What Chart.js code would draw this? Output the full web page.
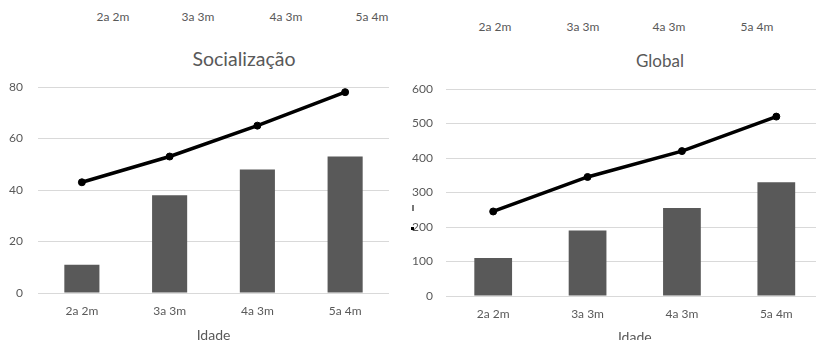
<!DOCTYPE html>
<html lang="pt">
<head>
<meta charset="utf-8">
<title>Socialização e Global por idade</title>
<script src="https://cdn.jsdelivr.net/npm/chart.js@4/dist/chart.umd.min.js"></script>
<style>
  html, body { margin: 0; padding: 0; background: #fff; }
  body { width: 816px; height: 340px; position: relative; overflow: hidden; font-family: Lato, "Open Sans", sans-serif; color: #595959; }
  .quadro { position: absolute; }
  .titulo { position: absolute; transform: translate(-50%, -50%); white-space: nowrap; color: #595959; }
  .rotulo { position: absolute; transform: translateX(-50%); font-size: 12px; white-space: nowrap; color: #595959; }
  .corte { position: absolute; left: 0; top: 13px; width: 408px; height: 14px; overflow: hidden; }
  .marca { position: absolute; }
</style>
</head>
<body>

<!-- eixo do gráfico anterior, cortado no topo -->
<div class="corte" id="eixoAnteriorA"></div>
<div id="eixoAnteriorB"></div>

<div class="titulo" style="left:244px; top:58px; font-size:19.5px;">Socialização</div>
<div class="titulo" style="left:660px; top:60px; font-size:17px;">Global</div>

<div class="quadro" style="left:0; top:0; width:408px; height:345px;">
  <canvas id="graficoSocializacao"></canvas>
</div>
<div class="quadro" style="left:408px; top:0; width:420px; height:350px;">
  <canvas id="graficoGlobal"></canvas>
</div>

<div class="marca" style="left:412px; top:205px; width:2px; height:6px; background:#777;"></div>
<div class="marca" style="left:411px; top:227px; width:3px; height:3px; background:#000;"></div>

<script>
const idades = ['2a 2m', '3a 3m', '4a 3m', '5a 4m'];

const socializacaoBarras = [11, 38, 48, 53];
const socializacaoLinha = [43, 53, 65, 78];
const socializacaoMax = 80;
const socializacaoPasso = 20;

const globalBarras = [110, 190, 255, 330];
const globalLinha = [245, 345, 420, 520];
const globalMax = 600;
const globalPasso = 100;

// rótulos soltos do gráfico de cima
const eixoAnteriorEsq = [113, 198, 286, 372];
const eixoAnteriorDir = [495, 583, 669, 757];

const cinza = '#595959';
const grade = '#d9d9d9';
const fonte = 'Lato, "Open Sans", sans-serif';

function rotulosAnteriores(id, xs, top) {
  const el = document.getElementById(id);
  idades.forEach((txt, i) => {
    const d = document.createElement('div');
    d.className = 'rotulo';
    d.textContent = txt;
    d.style.left = xs[i] + 'px';
    d.style.top = top + 'px';
    el.appendChild(d);
  });
}
rotulosAnteriores('eixoAnteriorA', eixoAnteriorEsq, -4);
rotulosAnteriores('eixoAnteriorB', eixoAnteriorDir, 19);

function montaGrafico(id, barras, linha, max, passo, cfg) {
  const ctx = document.getElementById(id).getContext('2d');
  return new Chart(ctx, {
    data: {
      labels: idades,
      datasets: [
        {
          type: 'line',
          data: linha,
          borderColor: '#000',
          backgroundColor: '#000',
          borderWidth: 3.5,
          pointRadius: 3.5,
          pointHoverRadius: 3.5,
          pointBorderWidth: 1,
          pointBackgroundColor: '#000',
          tension: 0,
          order: 1,
        },
        {
          type: 'bar',
          data: barras,
          backgroundColor: cinza,
          barPercentage: 0.4,
          categoryPercentage: 1,
          order: 2,
        },
      ],
    },
    options: {
      responsive: true,
      maintainAspectRatio: false,
      animation: false,
      layout: { padding: { top: cfg.topo, right: cfg.direita, left: 0, bottom: 0 } },
      plugins: {
        legend: { display: false },
        tooltip: { enabled: false },
        title: { display: false },
      },
      scales: {
        x: {
          grid: { display: false },
          border: { display: false },
          ticks: { color: cinza, font: { family: fonte, size: 12 }, padding: 3 },
          title: {
            display: true,
            text: 'Idade',
            color: cinza,
            font: { family: fonte, size: 14 },
            padding: { top: 0, bottom: cfg.folgaTitulo },
          },
          afterFit: (s) => { s.height = cfg.alturaX; },
        },
        y: {
          min: 0,
          max: max,
          grid: { color: grade, lineWidth: 1, drawTicks: false },
          border: { display: false },
          ticks: {
            stepSize: passo,
            color: cinza,
            font: { family: fonte, size: 12 },
            padding: cfg.folgaY,
          },
          afterFit: (s) => { s.width = 38; },
        },
      },
    },
  });
}

montaGrafico('graficoSocializacao', socializacaoBarras, socializacaoLinha, socializacaoMax, socializacaoPasso,
  { topo: 87, direita: 19, alturaX: 52, folgaTitulo: 1.5, folgaY: 15 });

montaGrafico('graficoGlobal', globalBarras, globalLinha, globalMax, globalPasso,
  { topo: 89, direita: 2, alturaX: 54, folgaTitulo: 4.5, folgaY: 13 });
</script>
</body>
</html>
